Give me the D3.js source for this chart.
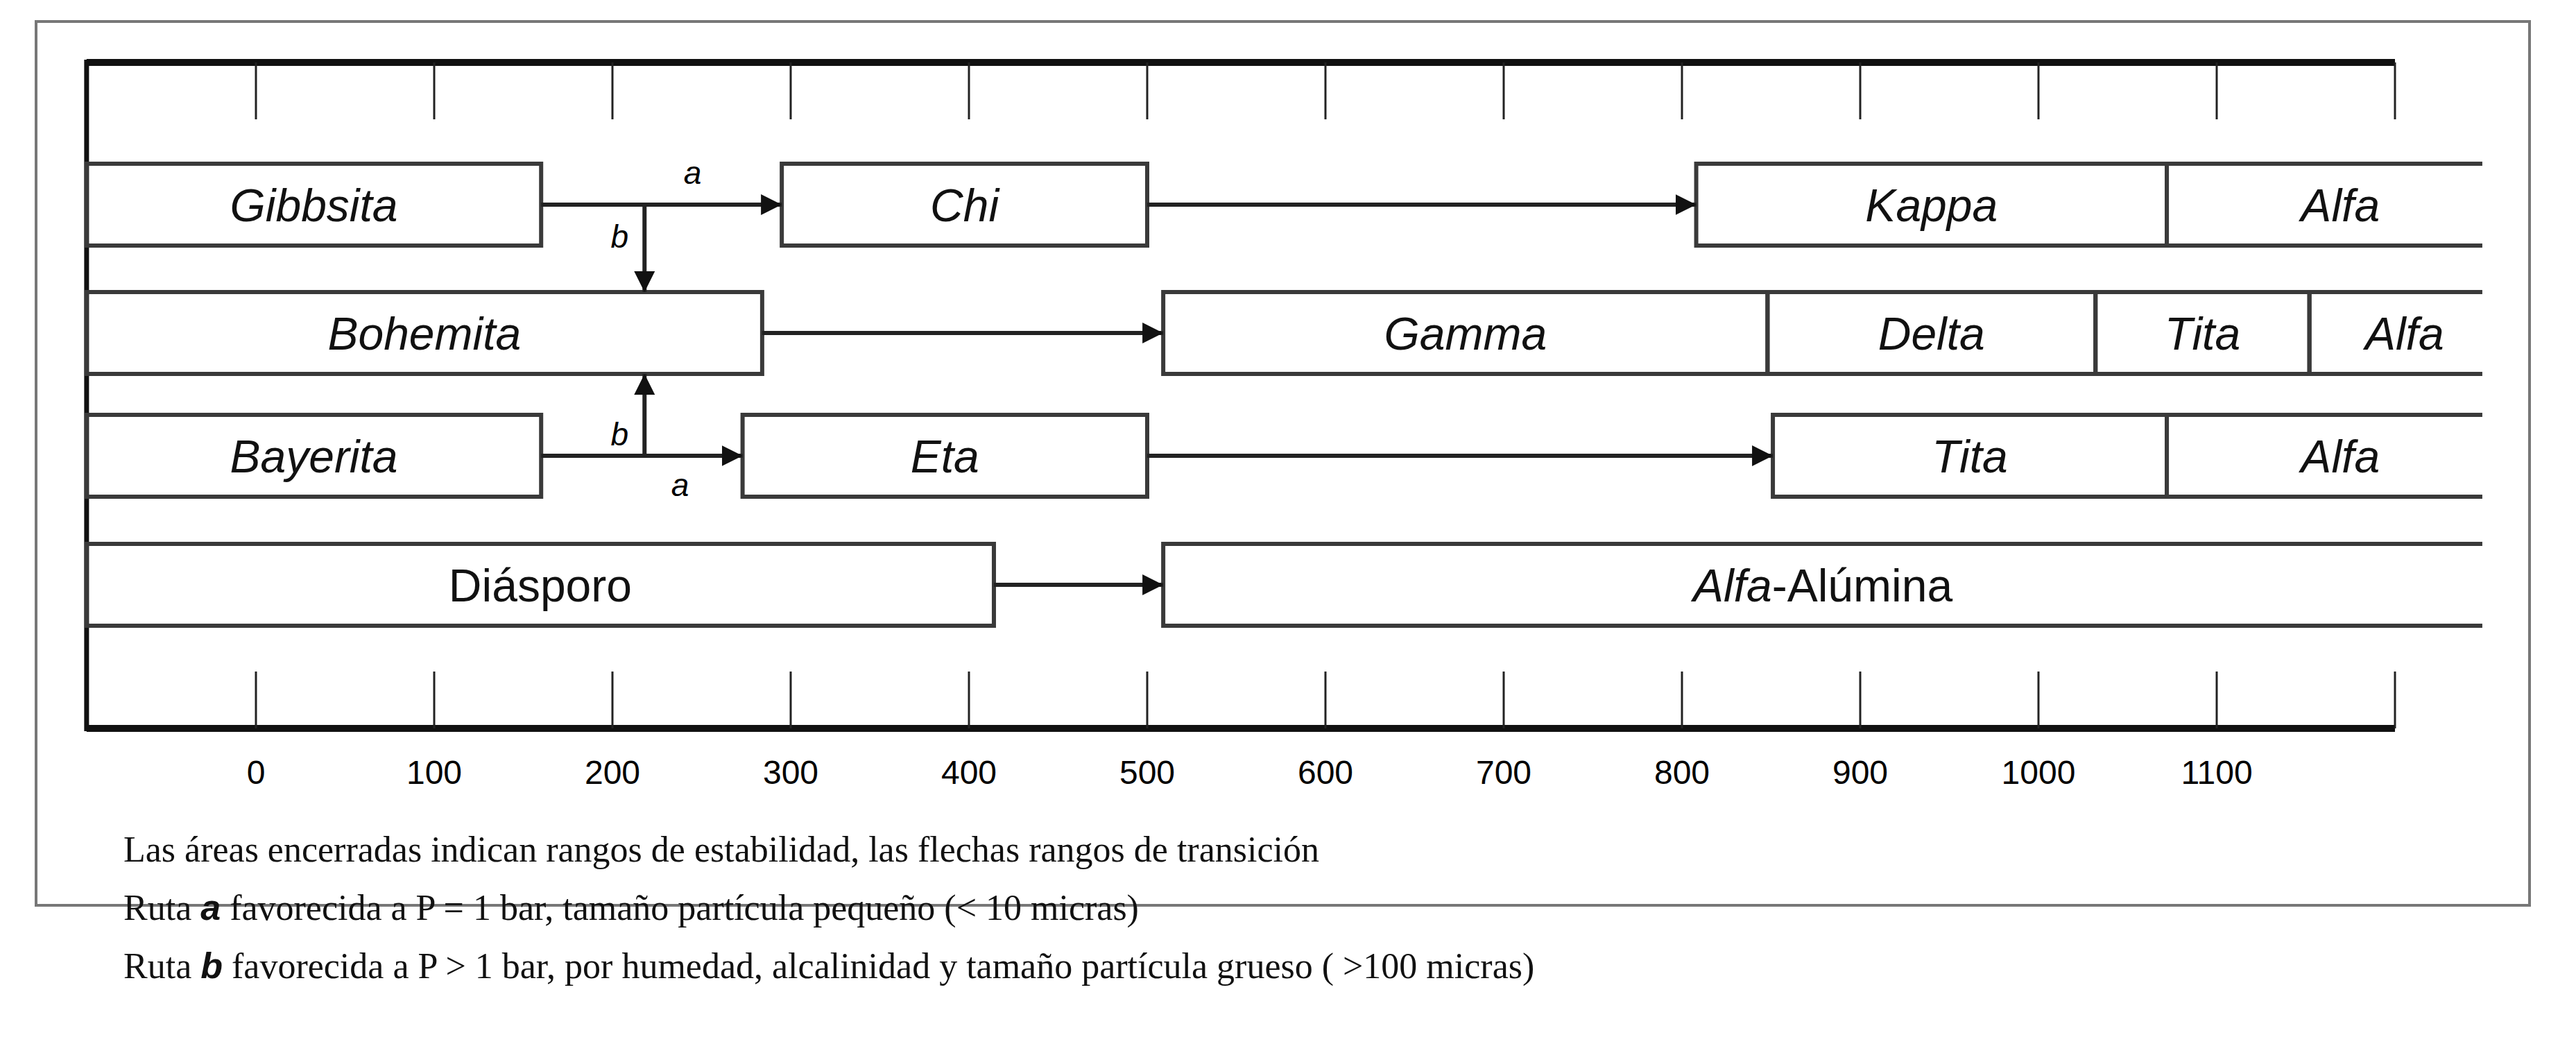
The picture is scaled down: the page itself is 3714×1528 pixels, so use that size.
<!DOCTYPE html>
<html><head><meta charset="utf-8">
<script src="https://cdn.jsdelivr.net/npm/d3@7"></script>
<style>body{margin:0;background:#fff}</style>
</head><body>
<svg id="chart" width="3714" height="1528"></svg>
<script>
// temperature ticks (°C)
const ticks = [0,100,200,300,400,500,600,700,800,900,1000,1100,1200];
const tickLabels = ["0","100","200","300","400","500","600","700","800","900","1000","1100",""];
const rows = ["gib","boh","bay","dia"];
// boxes: [row, start, end, label, open right]
const boxes = [
  ["gib",-95,160,"Gibbsita"],["gib",295,500,"Chi"],["gib",808,1072,"Kappa"],["gib",1072,1249,"Alfa",true],
  ["boh",-95,284,"Bohemita"],["boh",509,848,"Gamma"],["boh",848,1032,"Delta"],["boh",1032,1152,"Tita"],["boh",1152,1249,"Alfa",true],
  ["bay",-95,160,"Bayerita"],["bay",273,500,"Eta"],["bay",851,1072,"Tita"],["bay",1072,1249,"Alfa",true],
  ["dia",-95,414,"Diásporo"],["dia",509,1249,"Alfa-Alúmina",true]
];
// horizontal transition arrows: [row, from, to]
const arrows = [["gib",160,295],["gib",500,808],["boh",284,509],["bay",160,273],["bay",500,851],["dia",414,509]];
// vertical branch arrows (route b): [x, fromRow, toRow]
const branches = [[218,"gib","boh"],[218,"bay","boh"]];
const caption = [
  ["Las áreas encerradas indican rangos de estabilidad, las flechas rangos de transición"],
  ["Ruta ","a"," favorecida a P =  1 bar, tamaño partícula pequeño (< 10 micras)"],
  ["Ruta ","b"," favorecida a P > 1 bar,  por  humedad, alcalinidad y tamaño partícula grueso ( >100 micras)"]
];

const svg = d3.select("#chart");
const x = d3.scaleLinear().domain([0,1200]).range([369,3453]);
const rowTop = {gib:236, boh:421, bay:598, dia:784};
const rowH = 118;
const rTop = r => rowTop[r], rMid = r => rowTop[r] + rowH/2, rBot = r => rowTop[r] + rowH;

svg.append("rect").attr("x",52).attr("y",31).attr("width",3595).attr("height",1274)
  .attr("fill","none").attr("stroke","#777").attr("stroke-width",4);

const defs = svg.append("defs");
defs.append("marker").attr("id","ah").attr("viewBox","0 0 10 10").attr("refX",10).attr("refY",5)
  .attr("markerUnits","userSpaceOnUse").attr("markerWidth",30).attr("markerHeight",40).attr("orient","auto")
  .append("path").attr("d","M0,0L10,5L0,10Z").attr("fill","#111");

// axes
const x0 = x(-95), x1 = x(1200);
const topAxis = svg.append("g");
topAxis.append("line").attr("x1",x0).attr("x2",x1).attr("y1",90).attr("y2",90).attr("stroke","#111").attr("stroke-width",10);
topAxis.selectAll(".t").data(ticks).join("line").attr("x1",d=>x(d)).attr("x2",d=>x(d)).attr("y1",90).attr("y2",172).attr("stroke","#222").attr("stroke-width",3);
const botAxis = svg.append("g");
botAxis.append("line").attr("x1",x0).attr("x2",x1).attr("y1",1050).attr("y2",1050).attr("stroke","#111").attr("stroke-width",10);
botAxis.selectAll(".t").data(ticks).join("line").attr("x1",d=>x(d)).attr("x2",d=>x(d)).attr("y1",968).attr("y2",1050).attr("stroke","#222").attr("stroke-width",3);
botAxis.selectAll("text").data(ticks).join("text").attr("x",d=>x(d)).attr("y",1130)
  .attr("text-anchor","middle").attr("font-family","Liberation Sans, Arial").attr("font-size",48)
  .text((d,i)=>tickLabels[i]);
svg.append("line").attr("x1",x0).attr("x2",x0).attr("y1",86).attr("y2",1054).attr("stroke","#111").attr("stroke-width",7);

// boxes
const bg = svg.append("g").attr("stroke","#3a3a3a").attr("stroke-width",6).attr("fill","none");
boxes.forEach(([r,s,e,label,open])=>{
  const xa=x(s), xb=x(e), yt=rTop(r), yb=rBot(r);
  const p = open ? `M${xb},${yt}L${xa},${yt}L${xa},${yb}L${xb},${yb}` : `M${xa},${yt}L${xb},${yt}L${xb},${yb}L${xa},${yb}Z`;
  bg.append("path").attr("d",p);
  const cx = open ? (label.length>5 ? xa + (xb-xa)*0.5 : xa + (xb-xa)*0.55) : (xa+xb)/2;
  const t = svg.append("text").attr("x",cx).attr("y",rMid(r)+24).attr("text-anchor","middle")
    .attr("font-family","Liberation Sans, Arial").attr("font-size",66).attr("fill","#111");
  if(label==="Diásporo") t.text(label);
  else if(label==="Alfa-Alúmina"){ t.append("tspan").attr("font-style","italic").text("Alfa"); t.append("tspan").text("-Alúmina"); }
  else t.attr("font-style","italic").text(label);
});

// arrows
const ag = svg.append("g").attr("stroke","#222").attr("stroke-width",6);
arrows.forEach(([r,a,b])=>ag.append("line").attr("x1",x(a)).attr("x2",x(b)).attr("y1",rMid(r)).attr("y2",rMid(r)).attr("marker-end","url(#ah)"));
branches.forEach(([v,f,t])=>{
  const ys = rMid(f), ye = rTop(f)<rTop(t) ? rTop(t) : rBot(t);
  ag.append("line").attr("x1",x(v)).attr("x2",x(v)).attr("y1",ys).attr("y2",ye).attr("marker-end","url(#ah)");
});
const lab = (t,vx,vy)=>svg.append("text").attr("x",vx).attr("y",vy).attr("text-anchor","middle")
  .attr("font-family","Liberation Sans, Arial").attr("font-style","italic").attr("font-size",46).text(t);
lab("a",x(245),rMid("gib")-30); lab("b",x(204),rMid("gib")+62);
lab("b",x(204),rMid("bay")-15); lab("a",x(238),rMid("bay")+58);

// caption
const cy = [1242,1326,1410];
caption.forEach((parts,i)=>{
  const t = svg.append("text").attr("x",178).attr("y",cy[i]).attr("font-family","Liberation Serif, Times New Roman")
    .attr("font-size",52).attr("fill","#111");
  parts.forEach((p,j)=>{
    const sp = t.append("tspan").text(p);
    if(j===1) sp.attr("font-family","Liberation Sans, Arial").attr("font-style","italic").attr("font-weight","bold");
  });
});
</script>
</body></html>
